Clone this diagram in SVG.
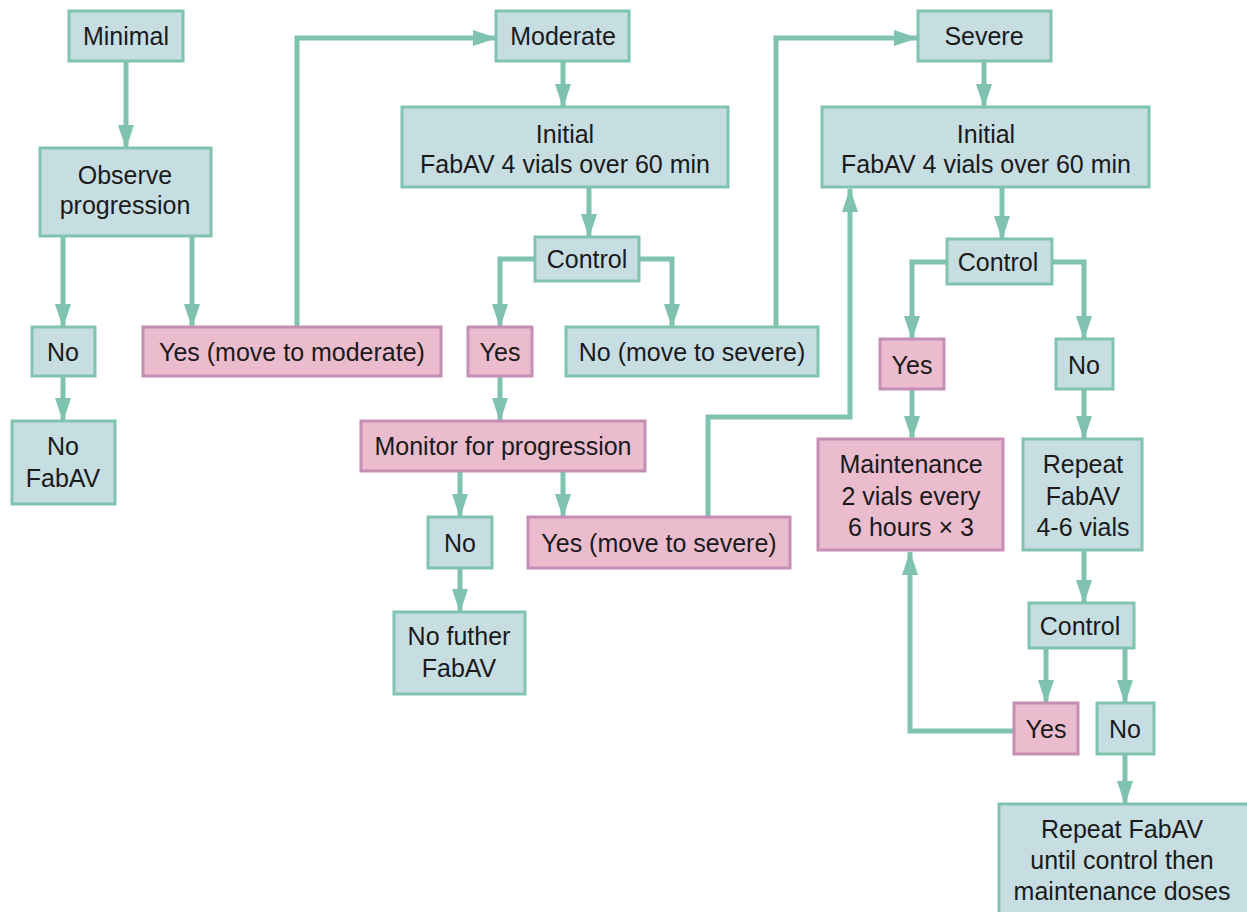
<svg xmlns="http://www.w3.org/2000/svg" width="1247" height="912" viewBox="0 0 1247 912">
<defs>
<marker id="ah" markerUnits="userSpaceOnUse" markerWidth="24" markerHeight="16" viewBox="0 0 24 16" refX="23" refY="8" orient="auto">
<path d="M0,0 L24,8 L0,16 z" fill="#80c2b0"/>
</marker>
<style>
.b{fill:#c6dde2;stroke:#80c3b1;stroke-width:3}
.p{fill:#ebbccd;stroke:#c68db5;stroke-width:3}
.t{font-family:"Liberation Sans",Arial,sans-serif;font-size:25px;fill:#1a1a1a;text-anchor:middle}
.c{fill:none;stroke:#80c2b0;stroke-width:5}
.a{marker-end:url(#ah)}
</style>
</defs>
<rect width="1247" height="912" fill="#ffffff"/>
<g id="connectors">
<path class="c a" d="M126,61 V148"/>
<path class="c a" d="M63,236 V327"/>
<path class="c a" d="M192,236 V327"/>
<path class="c a" d="M63,376 V421"/>
<path class="c a" d="M297,327 V38 H496"/>
<path class="c a" d="M563,61 V107"/>
<path class="c a" d="M589,187 V237"/>
<path class="c a" d="M535,259 H500 V327"/>
<path class="c a" d="M639,259 H672 V327"/>
<path class="c a" d="M776,327 V38 H917"/>
<path class="c a" d="M500,376 V421"/>
<path class="c a" d="M460,471 V517"/>
<path class="c a" d="M563,471 V517"/>
<path class="c a" d="M460,568 V612"/>
<path class="c a" d="M708,517 V417 H850 V189"/>
<path class="c a" d="M984,61 V107"/>
<path class="c a" d="M1002,187 V239"/>
<path class="c a" d="M947,262 H912 V339"/>
<path class="c a" d="M1052,262 H1084 V339"/>
<path class="c a" d="M912,389 V439"/>
<path class="c a" d="M1084,389 V439"/>
<path class="c a" d="M1084,550 V603"/>
<path class="c a" d="M1046,648 V703"/>
<path class="c a" d="M1125,648 V703"/>
<path class="c a" d="M1014,731 H910 V552"/>
<path class="c a" d="M1125,754 V804"/>
</g>
<g id="minimal"><rect class="b" x="69" y="11" width="114" height="50"/><text class="t" x="126" y="45">Minimal</text></g>
<g id="observe"><rect class="b" x="40" y="148" width="171" height="88"/><text class="t" x="125" y="184">Observe</text><text class="t" x="125" y="214">progression</text></g>
<g id="no1"><rect class="b" x="32" y="327" width="63" height="49"/><text class="t" x="63" y="361">No</text></g>
<g id="yes-moderate"><rect class="p" x="143" y="327" width="298" height="49"/><text class="t" x="292" y="361">Yes (move to moderate)</text></g>
<g id="no-fabav"><rect class="b" x="12" y="421" width="103" height="83"/><text class="t" x="63" y="455">No</text><text class="t" x="63" y="487">FabAV</text></g>
<g id="moderate"><rect class="b" x="496" y="11" width="133" height="50"/><text class="t" x="563" y="45">Moderate</text></g>
<g id="initial-mod"><rect class="b" x="402" y="107" width="326" height="80"/><text class="t" x="565" y="143">Initial</text><text class="t" x="565" y="173">FabAV 4 vials over 60 min</text></g>
<g id="control-mod"><rect class="b" x="535" y="237" width="104" height="44"/><text class="t" x="587" y="268">Control</text></g>
<g id="yes-mod"><rect class="p" x="468" y="327" width="64" height="49"/><text class="t" x="500" y="361">Yes</text></g>
<g id="no-severe"><rect class="b" x="566" y="327" width="252" height="49"/><text class="t" x="692" y="361">No (move to severe)</text></g>
<g id="monitor"><rect class="p" x="361" y="421" width="284" height="50"/><text class="t" x="503" y="455">Monitor for progression</text></g>
<g id="no2"><rect class="b" x="428" y="517" width="64" height="51"/><text class="t" x="460" y="552">No</text></g>
<g id="yes-severe"><rect class="p" x="528" y="517" width="262" height="51"/><text class="t" x="659" y="552">Yes (move to severe)</text></g>
<g id="no-further"><rect class="b" x="394" y="612" width="131" height="82"/><text class="t" x="459" y="645">No futher</text><text class="t" x="459" y="677">FabAV</text></g>
<g id="severe"><rect class="b" x="918" y="11" width="133" height="50"/><text class="t" x="984" y="45">Severe</text></g>
<g id="initial-sev"><rect class="b" x="822" y="107" width="327" height="80"/><text class="t" x="986" y="143">Initial</text><text class="t" x="986" y="173">FabAV 4 vials over 60 min</text></g>
<g id="control-sev"><rect class="b" x="947" y="239" width="105" height="45"/><text class="t" x="998" y="271">Control</text></g>
<g id="yes3"><rect class="p" x="880" y="339" width="64" height="50"/><text class="t" x="912" y="374">Yes</text></g>
<g id="no3"><rect class="b" x="1056" y="339" width="57" height="50"/><text class="t" x="1084" y="374">No</text></g>
<g id="maintenance"><rect class="p" x="818" y="439" width="185" height="111"/><text class="t" x="911" y="473">Maintenance</text><text class="t" x="911" y="505">2 vials every</text><text class="t" x="911" y="536">6 hours × 3</text></g>
<g id="repeat"><rect class="b" x="1023" y="439" width="119" height="111"/><text class="t" x="1083" y="473">Repeat</text><text class="t" x="1083" y="505">FabAV</text><text class="t" x="1083" y="536">4-6 vials</text></g>
<g id="control3"><rect class="b" x="1029" y="603" width="105" height="45"/><text class="t" x="1080" y="635">Control</text></g>
<g id="yes4"><rect class="p" x="1014" y="703" width="64" height="51"/><text class="t" x="1046" y="738">Yes</text></g>
<g id="no4"><rect class="b" x="1097" y="703" width="57" height="51"/><text class="t" x="1125" y="738">No</text></g>
<g id="final"><rect class="b" x="999" y="804" width="262" height="130"/><text class="t" x="1122" y="838">Repeat FabAV</text><text class="t" x="1122" y="869">until control then</text><text class="t" x="1122" y="900">maintenance doses</text></g>
</svg>
